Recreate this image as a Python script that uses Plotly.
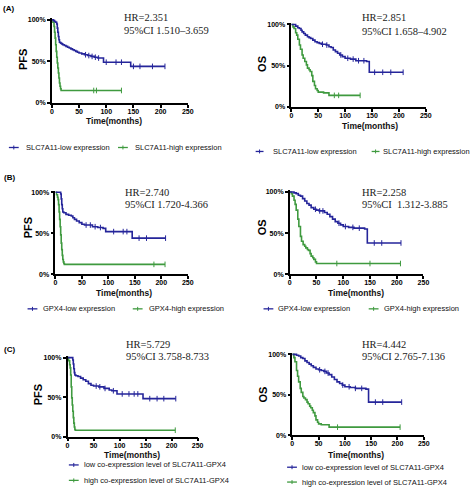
import plotly.graph_objects as go

W, H = 474, 491
BLUE = "#25259a"
GREEN = "#3f9a3f"

# ---------------- data (time in months, survival in %) ----------------
# Panel A: SLC7A11
a_pfs_low_t = [0, 3, 5, 7, 9, 10, 11, 12, 13, 14, 16, 18, 20, 23, 26, 29, 32, 35, 38, 41, 44, 47, 50, 55, 60, 66, 72, 78, 84, 90, 95, 145, 208]
a_pfs_low_s = [100, 99, 98, 97, 95, 90, 85, 80, 76, 73, 72, 71, 70, 69, 68, 67, 66, 65, 64, 63, 62, 61, 60, 59, 58, 57, 56, 55, 54, 54, 49, 44, 44]
a_pfs_low_c = [62, 68, 74, 80, 86, 100, 118, 128, 150, 162, 185, 208]
a_pfs_high_t = [0, 2, 4, 5, 6, 7, 8, 9, 10, 11, 12, 13, 14, 15, 16, 17, 128]
a_pfs_high_s = [100, 97, 92, 85, 78, 70, 62, 55, 48, 42, 36, 30, 24, 20, 17, 15, 15]
a_pfs_high_c = [77, 82, 128]

a_os_low_t = [0, 8, 12, 15, 18, 20, 23, 26, 30, 33, 36, 40, 44, 48, 52, 56, 60, 65, 70, 74, 78, 82, 86, 90, 95, 100, 110, 120, 140, 145, 208]
a_os_low_s = [100, 98, 96, 95, 93, 91, 89, 87, 85, 84, 83, 81, 79, 78, 77, 76, 76, 75, 73, 72, 69, 67, 65, 63, 61, 59, 58, 56, 55, 42, 42]
a_os_low_c = [58, 66, 92, 105, 115, 125, 135, 155, 170, 185, 208]
a_os_high_t = [0, 3, 5, 8, 10, 12, 15, 17, 20, 22, 25, 28, 30, 33, 35, 38, 40, 43, 45, 48, 50, 60, 70, 128]
a_os_high_s = [100, 97, 95, 90, 87, 82, 75, 70, 63, 59, 55, 51, 47, 45, 43, 38, 31, 26, 22, 20, 18, 17, 14, 14]
a_os_high_c = [80, 88, 128]

# Panel B: GPX4
b_pfs_low_t = [0, 10, 11, 12, 13, 14, 16, 20, 25, 30, 33, 36, 40, 45, 50, 55, 60, 70, 80, 90, 95, 145, 208]
b_pfs_low_s = [100, 98, 92, 85, 80, 76, 75, 73, 72, 71, 69, 67, 65, 63, 61, 60, 60, 58, 57, 56, 52, 44, 44]
b_pfs_low_c = [58, 66, 75, 85, 110, 128, 135, 158, 172, 208]
b_pfs_high_t = [0, 2, 4, 5, 6, 7, 8, 9, 10, 11, 12, 13, 14, 15, 16, 17, 207]
b_pfs_high_s = [100, 97, 94, 91, 85, 76, 67, 58, 48, 38, 30, 23, 18, 15, 13, 12, 12]
b_pfs_high_c = [186, 207]

b_os_low_t = [0, 8, 12, 16, 20, 24, 28, 32, 36, 40, 45, 50, 55, 60, 65, 70, 75, 80, 85, 90, 95, 100, 110, 120, 140, 145, 208]
b_os_low_s = [100, 99, 98, 96, 95, 92, 89, 86, 84, 81, 79, 78, 77, 77, 75, 73, 70, 67, 64, 62, 60, 58, 57, 56, 55, 38, 38]
b_os_low_c = [48, 56, 62, 92, 104, 118, 130, 158, 172, 208]
b_os_high_t = [0, 3, 5, 8, 10, 12, 15, 17, 20, 22, 25, 28, 30, 33, 35, 38, 40, 43, 45, 48, 50, 207]
b_os_high_s = [100, 98, 95, 90, 85, 78, 67, 58, 46, 40, 36, 34, 32, 30, 29, 25, 22, 20, 18, 15, 13, 13]
b_os_high_c = [88, 150, 207]

# Panel C: SLC7A11-GPX4 co-expression
c_pfs_low_t = [0, 10, 11, 12, 13, 14, 16, 20, 25, 30, 35, 40, 45, 50, 60, 70, 80, 85, 95, 145, 208]
c_pfs_low_s = [100, 97, 92, 86, 81, 78, 77, 76, 74, 72, 70, 67, 65, 64, 63, 61, 59, 58, 54, 48, 48]
c_pfs_low_c = [55, 62, 72, 88, 105, 118, 128, 135, 158, 172, 185, 208]
c_pfs_high_t = [0, 2, 4, 5, 6, 7, 8, 9, 10, 11, 12, 13, 14, 15, 207]
c_pfs_high_s = [100, 96, 91, 87, 78, 63, 49, 40, 32, 24, 17, 12, 9, 8, 8]
c_pfs_high_c = [207]

c_os_low_t = [0, 8, 12, 16, 20, 24, 28, 32, 36, 40, 45, 50, 55, 60, 65, 70, 75, 80, 85, 90, 95, 100, 110, 120, 140, 145, 208]
c_os_low_s = [100, 99, 98, 96, 95, 92, 90, 88, 86, 84, 82, 81, 80, 79, 77, 75, 72, 69, 66, 64, 62, 60, 59, 58, 57, 41, 41]
c_os_low_c = [52, 62, 68, 96, 108, 120, 132, 158, 172, 208]
c_os_high_t = [0, 3, 5, 8, 10, 12, 15, 17, 20, 22, 25, 28, 30, 33, 35, 38, 40, 43, 45, 48, 50, 55, 70, 205]
c_os_high_s = [100, 96, 91, 80, 73, 66, 58, 53, 48, 46, 44, 41, 39, 36, 34, 31, 28, 24, 19, 16, 14, 13, 10, 10]
c_os_high_c = [86, 205]

x_ticks = [0, 50, 100, 150, 200, 250]
y_ticks = [0, 50, 100]
y_tick_labels = ["0%", "50%", "100%"]

hr_texts = [
    ("HR=2.351", "95%CI 1.510\u20133.659"),
    ("HR=2.851", "95%CI 1.658\u20134.902"),
    ("HR=2.740", "95%CI 1.720-4.366"),
    ("HR=2.258", "95%CI  1.312-3.885"),
    ("HR=5.729", "95%CI 3.758-8.733"),
    ("HR=4.442", "95%CI 2.765-7.136"),
]
y_titles = ["PFS", "OS", "PFS", "OS", "PFS", "OS"]
legend_A = ["SLC7A11-low expression", "SLC7A11-high expression"]
legend_B = ["GPX4-low expression", "GPX4-high expression"]
legend_C = ["low co-expression level of SLC7A11-GPX4", "high co-expression level of SLC7A11-GPX4"]

panels_data = [
    (a_pfs_low_t, a_pfs_low_s, a_pfs_low_c, a_pfs_high_t, a_pfs_high_s, a_pfs_high_c),
    (a_os_low_t, a_os_low_s, a_os_low_c, a_os_high_t, a_os_high_s, a_os_high_c),
    (b_pfs_low_t, b_pfs_low_s, b_pfs_low_c, b_pfs_high_t, b_pfs_high_s, b_pfs_high_c),
    (b_os_low_t, b_os_low_s, b_os_low_c, b_os_high_t, b_os_high_s, b_os_high_c),
    (c_pfs_low_t, c_pfs_low_s, c_pfs_low_c, c_pfs_high_t, c_pfs_high_s, c_pfs_high_c),
    (c_os_low_t, c_os_low_s, c_os_low_c, c_os_high_t, c_os_high_s, c_os_high_c),
]

# ---------------- layout geometry (pixels) ----------------
# (x_left, x_right(250), y_top, y_bottom(0%))
boxes = [
    (50.7, 189, 16.3, 102),
    (294.3, 431, 21.0, 106),
    (54.3, 189, 190.6, 275),
    (292.7, 428.7, 190.3, 275),
    (66.7, 199, 357.7, 439),
    (295.3, 429, 354.4, 437.7),
]
ytitle_pos = [(22, 58), (265, 63), (26, 228), (264, 228), (37, 397), (265, 397)]
xtitle_pos = [(114, 120.5), (374, 125), (124, 293.5), (360, 294), (132.5, 457.5), (360, 457.5)]
hr_pos = [(123, 16, 29), (365, 16, 29.5), (124, 192, 204.5), (365, 192, 205), (125, 346, 358), (365, 346, 358)]


def px(x):
    return x / W


def py(y):
    return 1 - y / H


def surv_at(ts, ss, t):
    val = ss[0]
    for ti, si in zip(ts, ss):
        if ti <= t:
            val = si
        else:
            break
    return val


fig = go.Figure()
layout = dict(
    width=W, height=H, margin=dict(l=0, r=0, t=0, b=0),
    paper_bgcolor="white", plot_bgcolor="white", showlegend=False,
)
annotations = []
shapes = []
BOLD = "Arial, Liberation Sans, sans-serif"
SERIF = "Times New Roman, Liberation Serif, serif"


def ann(text, x, y, font, xanchor="center", angle=0):
    return dict(text=text, x=px(x), y=py(y), xref="paper", yref="paper",
                xanchor=xanchor, yanchor="middle", showarrow=False, textangle=angle,
                font=font, borderpad=0)


for i, (box, pdata) in enumerate(zip(boxes, panels_data)):
    n = "" if i == 0 else str(i + 1)
    xl, xr, yt, yb = box
    layout["xaxis" + n] = dict(
        domain=[px(xl), px(xr)], anchor="y" + n, range=[0, 250],
        tickvals=x_ticks, showline=True, linecolor="black", linewidth=1.5,
        ticks="outside", ticklen=3, tickwidth=1.5, tickcolor="black",
        ticklabelstandoff=-2,
        tickfont=dict(family=BOLD, size=7, color="black", weight="bold"),
        showgrid=False, zeroline=False, fixedrange=True,
    )
    layout["yaxis" + n] = dict(
        domain=[py(yb), py(yt)], anchor="x" + n, range=[0, 102],
        tickvals=y_ticks, ticktext=y_tick_labels, showline=True, linecolor="black",
        linewidth=1.5, ticks="outside", ticklen=3, tickwidth=1.5, tickcolor="black",
        tickfont=dict(family=BOLD, size=7, color="black", weight="bold"),
        showgrid=False, zeroline=False, fixedrange=True,
    )
    lt, ls, lc, ht, hs, hc = pdata
    for ts, ss, cs, col in ((ht, hs, hc, GREEN), (lt, ls, lc, BLUE)):
        fig.add_trace(go.Scatter(
            x=ts, y=ss, mode="lines", line=dict(color=col, width=1.6, shape="hv"),
            xaxis="x" + n, yaxis="y" + n, hoverinfo="skip",
        ))
        fig.add_trace(go.Scatter(
            x=cs, y=[surv_at(ts, ss, c) for c in cs], mode="markers",
            marker=dict(symbol="line-ns", size=4, line=dict(color=col, width=1)),
            xaxis="x" + n, yaxis="y" + n, hoverinfo="skip", cliponaxis=False,
        ))
    tx, ty = ytitle_pos[i]
    annotations.append(ann(y_titles[i], tx, ty,
                           dict(family=BOLD, size=11, color="black", weight="bold"), angle=-90))
    tx, ty = xtitle_pos[i]
    annotations.append(ann("Time(months)", tx, ty,
                           dict(family=BOLD, size=8.5, color="#111", weight="bold")))
    hx, hy1, hy2 = hr_pos[i]
    for txt, yy in zip(hr_texts[i], (hy1, hy2)):
        annotations.append(ann(txt, hx, yy, dict(family=SERIF, size=10.5, color="#222"),
                               xanchor="left"))

# panel letters
for lab, (lx, ly) in zip(["(A)", "(B)", "(C)"], [(0, 7), (1, 177), (1, 351)]):
    annotations.append(ann(lab, lx, ly, dict(family=BOLD, size=8, color="black", weight="bold"),
                           xanchor="left"))

# legends: (glyph_x0, glyph_x1, text_x, y, label, color)
legend_items = [
    (7, 17, 23, 147, legend_A[0], BLUE), (118, 128, 134, 147, legend_A[1], GREEN),
    (258, 266, 275, 151, legend_A[0], BLUE), (376, 384, 387, 151, legend_A[1], GREEN),
    (26, 36, 41, 310, legend_B[0], BLUE), (133, 143, 148, 310, legend_B[1], GREEN),
    (266, 276, 280, 310, legend_B[0], BLUE), (373, 383, 388, 310, legend_B[1], GREEN),
    (68, 78, 82, 467.7, legend_C[0], BLUE), (68, 78, 82, 483.3, legend_C[1], GREEN),
    (290, 300, 304, 470, legend_C[0], BLUE), (290, 300, 304, 485, legend_C[1], GREEN),
]
for gx0, gx1, tx, yy, label, col in legend_items:
    shapes.append(dict(type="line", xref="paper", yref="paper", x0=px(gx0), x1=px(gx1),
                       y0=py(yy), y1=py(yy), line=dict(color=col, width=1.3)))
    mx = (gx0 + gx1) / 2
    shapes.append(dict(type="line", xref="paper", yref="paper", x0=px(mx), x1=px(mx),
                       y0=py(yy - 2), y1=py(yy + 2), line=dict(color=col, width=1)))
    annotations.append(ann(label, tx, yy,
                           dict(family="Arial, Liberation Sans, sans-serif", size=7.5, color="#111"),
                           xanchor="left"))

layout["annotations"] = annotations
layout["shapes"] = shapes
fig.update_layout(**layout)
fig.write_html(
    "out.html",
    config={"displayModeBar": False},
    post_script="document.body.style.margin='0';document.body.style.padding='0';"
                "document.documentElement.style.overflow='hidden';",
)
